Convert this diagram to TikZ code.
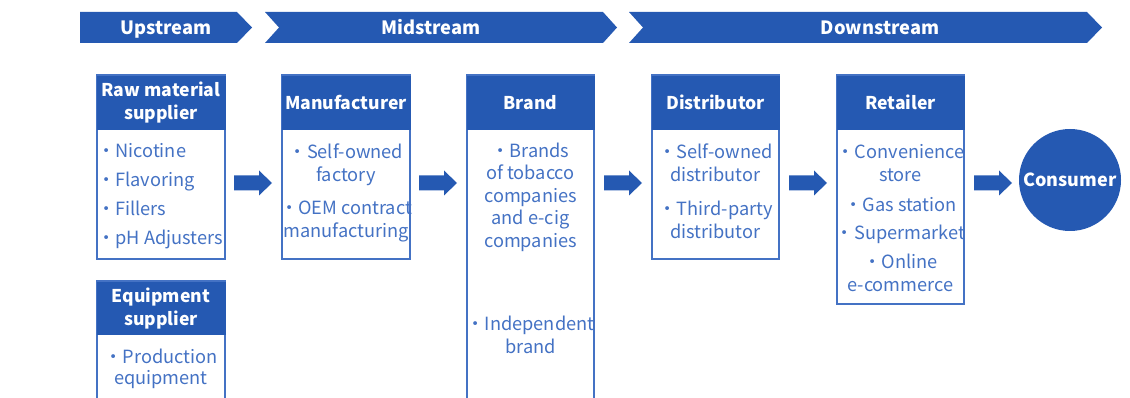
\documentclass[tikz,border=0pt]{standalone}
\usepackage{fontspec}
\setmainfont{Noto Sans CJK SC}
\definecolor{mblue}{RGB}{37,89,178}
\definecolor{tblue}{RGB}{68,114,196}
\tikzset{
  hdr/.style={fill=mblue, draw=mblue, text=white, font=\bfseries\fontsize{17.6}{23}\selectfont, align=center, inner sep=0pt, minimum width=128pt, minimum height=53pt},
  bodybox/.style={draw=tblue, line width=1.1pt, fill=white, inner sep=0pt},
  btext/.style={text=tblue, font=\fontsize{18.2}{23}\selectfont, align=center, inner sep=0pt},
  flowarrow/.pic={\fill[mblue] (-19,-7.5) -- (6,-7.5) -- (6,-12.5) -- (19,0) -- (6,12.5) -- (6,7.5) -- (-19,7.5) -- cycle;},
  bannertext/.style={text=white, font=\bfseries\fontsize{18.3}{23}\selectfont, inner sep=0pt, anchor=base},
  banner/.style={fill=mblue, draw=none}
}
\begin{document}
\begin{tikzpicture}[x=1pt,y=-1pt]
\useasboundingbox (0,0) rectangle (1130,398);
\clip (0,0) rectangle (1130,398);
% banners
\fill[banner] (80,12) -- (237,12) -- (252,27.5) -- (237,43) -- (80,43) -- cycle;
\fill[banner] (265,12) -- (603,12) -- (617,27.5) -- (603,43) -- (265,43) -- (279,27.5) -- cycle;
\fill[banner] (629,12) -- (1087,12) -- (1102,27.5) -- (1087,43) -- (629,43) -- (643,27.5) -- cycle;
\node[bannertext] (up) at (166,35) {Upstream};
\node[bannertext] (mid) at (431,35) {Midstream};
\node[bannertext] (down) at (880,35) {Downstream};
% body boxes
\node[bodybox, minimum width=128pt, minimum height=184pt] (rawb) at (161,167) {};
\node[bodybox, minimum width=128pt, minimum height=184pt] (manb) at (346,167) {};
\node[bodybox, minimum width=127pt, minimum height=327pt] (brandb) at (530.5,238.5) {};
\node[bodybox, minimum width=127pt, minimum height=184pt] (distb) at (715.5,167) {};
\node[bodybox, minimum width=127pt, minimum height=229pt] (retb) at (900.5,189.5) {};
\node[bodybox, minimum width=128pt, minimum height=121pt] (eqb) at (161,341.5) {};
% headers
\node[hdr] (rawh) at (161,102.5) {Raw material\\supplier};
\node[hdr] (manh) at (346,102.5) {Manufacturer};
\node[hdr, minimum width=127pt] (brandh) at (530.5,102.5) {Brand};
\node[hdr, minimum width=127pt] (disth) at (715.5,102.5) {Distributor};
\node[hdr, minimum width=127pt] (reth) at (900.5,102.5) {Retailer};
\node[hdr, minimum height=52pt] (eqh) at (161,308.5) {Equipment\\supplier};
% body texts
\node[btext, align=left, anchor=west, font=\fontsize{18.2}{29}\selectfont] (rawt) at (97,196) {・Nicotine\\・Flavoring\\・Fillers\\・pH Adjusters};
\node[btext] (mant) at (346,192.5) {・Self-owned\\factory\\[10pt]・OEM contract\\manufacturing};
\node[btext, font=\fontsize{18.2}{22.5}\selectfont] (brandt1) at (530.5,197) {・Brands\\of tobacco\\companies\\and e-cig\\companies};
\node[btext] (brandt2) at (530.5,335) {・Independent\\brand};
\node[btext] (distt) at (715.5,191.5) {・Self-owned\\distributor\\[11pt]・Third-party\\distributor};
\node[btext] (rett) at (900.5,218.5) {・Convenience\\store\\[7pt]・Gas station\\[5pt]・Supermarket\\[6pt]・Online\\e-commerce};
\node[btext, font=\fontsize{18.2}{21}\selectfont] (eqt) at (161,369) {・Production\\equipment};
% consumer
\node[circle, fill=mblue, minimum size=102pt, inner sep=0pt, text=white, font=\bfseries\fontsize{18}{23}\selectfont] (cons) at (1070,180) {Consumer};
% flow arrows
\pic (a1) at (253,183) {flowarrow};
\pic (a2) at (438,183) {flowarrow};
\pic (a3) at (623,183) {flowarrow};
\pic (a4) at (808,183) {flowarrow};
\pic (a5) at (993,183) {flowarrow};
\end{tikzpicture}
\end{document}
